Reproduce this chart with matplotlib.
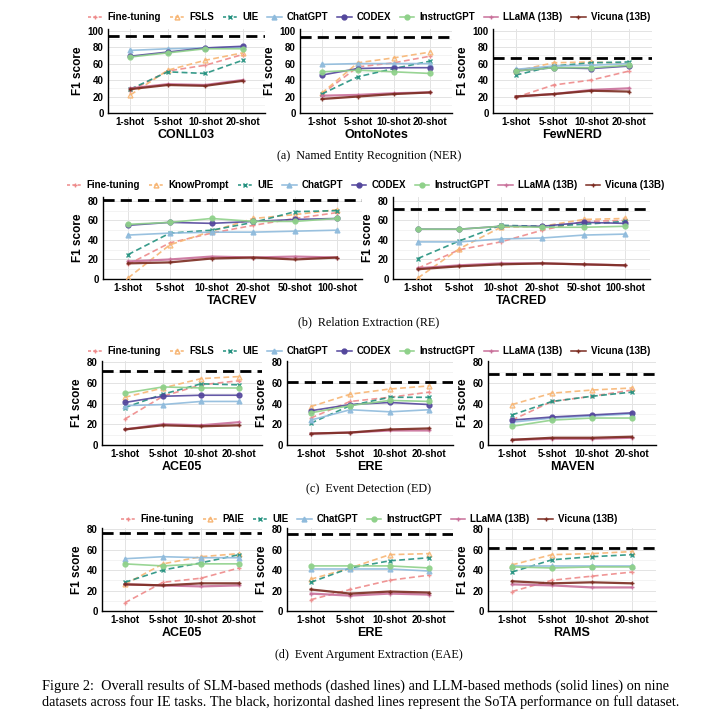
import matplotlib.pyplot as plt
from matplotlib.lines import Line2D

plt.rcParams['font.family'] = ['Liberation Sans', 'DejaVu Sans']
plt.rcParams['font.weight'] = 'bold'

shots4 = ['1-shot', '5-shot', '10-shot', '20-shot']
shots6 = ['1-shot', '5-shot', '10-shot', '20-shot', '50-shot', '100-shot']

ner_methods = ['Fine-tuning', 'FSLS', 'UIE', 'ChatGPT', 'CODEX', 'InstructGPT', 'LLaMA (13B)', 'Vicuna (13B)']
re_methods = ['Fine-tuning', 'KnowPrompt', 'UIE', 'ChatGPT', 'CODEX', 'InstructGPT', 'LLaMA (13B)', 'Vicuna (13B)']
ed_methods = ['Fine-tuning', 'FSLS', 'UIE', 'ChatGPT', 'CODEX', 'InstructGPT', 'LLaMA (13B)', 'Vicuna (13B)']
eae_methods = ['Fine-tuning', 'PAIE', 'UIE', 'ChatGPT', 'InstructGPT', 'LLaMA (13B)', 'Vicuna (13B)']

# F1 scores, one row per method (same order as the method lists)
conll03 = [[27, 51, 58, 71], [22, 52, 64, 73], [29, 50, 48, 64], [76, 78, 79, 80],
           [69, 74, 79, 81], [68, 73, 78, 78], [30, 35, 34, 40], [29, 34, 33, 39]]
ontonotes = [[23, 56, 61, 69], [24, 61, 67, 74], [23, 44, 54, 63], [59, 60, 60, 60],
             [46, 54, 55, 55], [50, 52, 50, 48], [21, 22, 24, 25], [17, 20, 23, 25]]
fewnerd = [[19, 34, 40, 51], [51, 61, 62, 60], [46, 57, 61, 62], [53, 57, 58, 60],
           [51, 55, 54, 57], [51, 55, 55, 58], [20, 23, 28, 30], [20, 23, 27, 26]]
tacrev = [[15, 37, 47, 55, 62, 68], [1, 35, 49, 62, 66, 71], [25, 47, 50, 58, 69, 70],
          [45, 47, 48, 48, 49, 50], [55, 58, 57, 59, 61, 62], [56, 58, 62, 59, 59, 62],
          [18, 20, 23, 22, 23, 22], [16, 17, 21, 22, 20, 22]]
tacred = [[11, 30, 38, 50, 59, 60], [1, 31, 53, 54, 61, 62], [21, 39, 55, 54, 56, 59],
          [38, 38, 41, 42, 45, 46], [51, 51, 54, 54, 58, 57], [51, 51, 54, 53, 53, 54],
          [11, 14, 16, 16, 15, 14], [10, 13, 15, 16, 15, 14]]
ace05_ed = [[25, 47, 58, 62], [46, 55, 64, 66], [36, 49, 59, 58], [38, 39, 42, 42],
            [41, 47, 48, 48], [50, 56, 55, 55], [15, 20, 19, 22], [15, 19, 18, 19]]
ere_ed = [[26, 42, 46, 51], [37, 49, 54, 57], [21, 38, 46, 46], [24, 34, 32, 34],
          [33, 39, 41, 39], [31, 38, 43, 42], [11, 12, 14, 14], [11, 12, 15, 16]]
maven = [[24, 42, 47, 53], [39, 50, 53, 55], [29, 42, 47, 51], [22, 26, 28, 30],
         [24, 27, 29, 31], [18, 24, 26, 26], [5, 6, 6, 7], [5, 7, 7, 8]]
ace05_eae = [[8, 28, 32, 42], [26, 46, 53, 56], [28, 40, 47, 55], [51, 53, 52, 52],
             [46, 44, 46, 46], [26, 25, 24, 25], [26, 25, 27, 27]]
ere_eae = [[11, 21, 30, 35], [31, 42, 55, 56], [28, 42, 49, 52], [41, 41, 41, 39],
           [44, 44, 44, 42], [17, 15, 17, 16], [21, 17, 19, 18]]
rams = [[19, 30, 34, 38], [45, 55, 56, 58], [38, 50, 53, 55], [44, 44, 44, 44],
        [43, 42, 43, 43], [26, 25, 23, 23], [29, 27, 28, 27]]

# SoTA on the full dataset
sota = {'CONLL03': 93.5, 'OntoNotes': 92, 'FewNERD': 67, 'TACREV': 81, 'TACRED': 71.5,
        'ACE05_ED': 71, 'ERE_ED': 60.5, 'MAVEN': 68, 'ACE05_EAE': 76, 'ERE_EAE': 75, 'RAMS': 61}

style = {
    'Fine-tuning': ('#ee8a8a', '+', True),
    'FSLS': ('#f7b573', '^', True),
    'KnowPrompt': ('#f7b573', '^', True),
    'PAIE': ('#f7b573', '^', True),
    'UIE': ('#23917f', 'x', True),
    'ChatGPT': ('#8fbbdc', '^', False),
    'CODEX': ('#54479c', 'o', False),
    'InstructGPT': ('#8fd18a', 'o', False),
    'LLaMA (13B)': ('#c9709a', '+', False),
    'Vicuna (13B)': ('#7b2b20', '+', False),
}

W, H = 720, 718
fig = plt.figure(figsize=(W / 100, H / 100), dpi=100)


def add_axes_px(x0, x1, ytop, ybot):
    return fig.add_axes([x0 / W, 1 - ybot / H, (x1 - x0) / W, (ybot - ytop) / H])


def draw_panel(box, methods, data, shots, title, key, ymax, yticks):
    ax = add_axes_px(*box)
    x = list(range(len(shots)))
    for name, vals in zip(methods, data):
        color, marker, dashed = style[name]
        lw = 1.6 if name in ('LLaMA (13B)', 'Vicuna (13B)') else 1.2
        mfc = 'none' if marker == '^' and dashed else color
        ax.plot(x, vals, color=color, lw=lw, ls=(0, (3.5, 2)) if dashed else '-',
                marker=marker, ms=3.5, mew=1.0, mfc=mfc, alpha=0.9, zorder=3)
    ax.axhline(sota[key], color='black', lw=2.0, ls=(0, (4, 2.2)), zorder=4)
    ax.set_xlim(-0.6, len(shots) - 0.4)
    ax.set_ylim(0, ymax)
    ax.set_xticks(x)
    ax.set_xticklabels(shots)
    ax.set_yticks(yticks)
    ax.set_yticks([t + 10 for t in yticks[:-1]], minor=True)
    ax.grid(True, which='major', color='#e3e3e3', lw=0.7, zorder=0)
    ax.grid(True, which='minor', axis='y', color='#efefef', lw=0.5, zorder=0)
    ax.set_axisbelow(True)
    for s in ('top', 'right'):
        ax.spines[s].set_visible(False)
    for s in ('left', 'bottom'):
        ax.spines[s].set_linewidth(1.0)
    ax.tick_params(axis='both', which='both', length=0, labelsize=7, pad=3)
    ax.set_ylabel('F1 score', fontsize=8.5, fontweight='bold', labelpad=3)
    ax.set_xlabel(title, fontsize=9, fontweight='bold', labelpad=1)
    return ax


def add_legend(methods, y, cx=369):
    handles = []
    for name in methods:
        color, marker, dashed = style[name]
        mfc = 'none' if marker == '^' and dashed else color
        handles.append(Line2D([0], [0], color=color, lw=1.1, ls=(0, (2, 1.5)) if dashed else '-',
                              marker=marker, ms=3.5, mew=1.0, mfc=mfc))
    fig.legend(handles, methods, loc='center', bbox_to_anchor=(cx / W, 1 - y / H),
               ncol=len(methods), frameon=False, fontsize=7, handlelength=1.5,
               handletextpad=0.5, columnspacing=0.9)


def caption(text, y):
    fig.text(369 / W, 1 - y / H, text, ha='center', va='center', fontsize=8.7,
             family=['Liberation Serif'], fontweight='normal')


ticks100 = [0, 20, 40, 60, 80, 100]
ticks80 = [0, 20, 40, 60, 80]

# (a) NER
add_legend(ner_methods, 17)
draw_panel((108, 265, 29, 113), ner_methods, conll03, shots4, 'CONLL03', 'CONLL03', 102, ticks100)
draw_panel((300, 452, 29, 113), ner_methods, ontonotes, shots4, 'OntoNotes', 'OntoNotes', 102, ticks100)
draw_panel((493, 652, 29, 113), ner_methods, fewnerd, shots4, 'FewNERD', 'FewNERD', 102, ticks100)
caption('(a)  Named Entity Recognition (NER)', 156)

# (b) RE
add_legend(re_methods, 185, 366)
draw_panel((103, 362, 197, 279), re_methods, tacrev, shots6, 'TACREV', 'TACREV', 84, ticks80)
draw_panel((393, 650, 197, 279), re_methods, tacred, shots6, 'TACRED', 'TACRED', 84, ticks80)
caption('(b)  Relation Extraction (RE)', 322)

# (c) ED
add_legend(ed_methods, 351)
draw_panel((102, 262, 361, 445), ed_methods, ace05_ed, shots4, 'ACE05', 'ACE05_ED', 81, ticks80)
draw_panel((287, 453, 361, 445), ed_methods, ere_ed, shots4, 'ERE', 'ERE_ED', 81, ticks80)
draw_panel((488, 656, 361, 445), ed_methods, maven, shots4, 'MAVEN', 'MAVEN', 81, ticks80)
caption('(c)  Event Detection (ED)', 489)

# (d) EAE
add_legend(eae_methods, 519)
draw_panel((102, 262, 528, 611), eae_methods, ace05_eae, shots4, 'ACE05', 'ACE05_EAE', 81, ticks80)
draw_panel((287, 453, 528, 611), eae_methods, ere_eae, shots4, 'ERE', 'ERE_EAE', 81, ticks80)
draw_panel((488, 656, 528, 611), eae_methods, rams, shots4, 'RAMS', 'RAMS', 81, ticks80)
caption('(d)  Event Argument Extraction (EAE)', 655)

fig.text(42 / W, 1 - 686 / H,
         'Figure 2:  Overall results of SLM-based methods (dashed lines) and LLM-based methods (solid lines) on nine',
         ha='left', va='center', fontsize=10.3, family=['Liberation Serif'], fontweight='normal')
fig.text(42 / W, 1 - 702 / H,
         'datasets across four IE tasks. The black, horizontal dashed lines represent the SoTA performance on full dataset.',
         ha='left', va='center', fontsize=10.3, family=['Liberation Serif'], fontweight='normal')

fig.savefig('out.png', dpi=100, facecolor='white')
